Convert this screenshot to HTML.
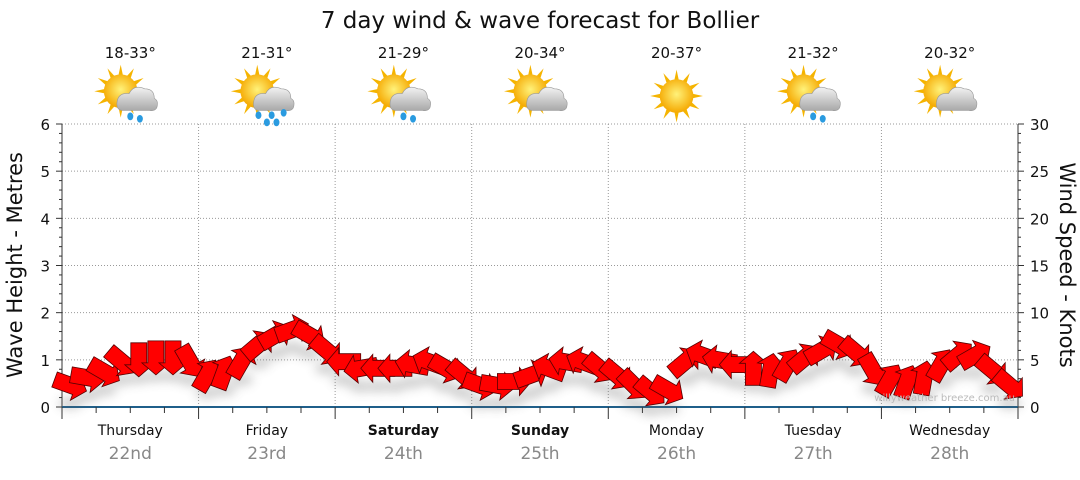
<!DOCTYPE html>
<html><head><meta charset="utf-8"><style>
body{margin:0;background:#fff;width:1080px;height:475px;overflow:hidden;font-family:"Liberation Sans","DejaVu Sans",sans-serif}
svg text{font-family:"DejaVu Sans","Liberation Sans",sans-serif}
</style></head><body>
<svg id="c" width="1080" height="475">
<defs>
<filter id="sh" x="-50%" y="-50%" width="200%" height="200%"><feGaussianBlur stdDeviation="5"/></filter>
<radialGradient id="sun" cx="50%" cy="45%" r="55%"><stop offset="0" stop-color="#fff27a"/><stop offset="1" stop-color="#f5a800"/></radialGradient>
<linearGradient id="cl" x1="0" y1="0" x2="0" y2="1"><stop offset="0" stop-color="#f2f2f2"/><stop offset="1" stop-color="#a8a8a8"/></linearGradient>
</defs>
<text x="540" y="28" text-anchor="middle" font-size="23" fill="#111">7 day wind &amp; wave forecast for Bollier</text>
<g id="grid"></g><g id="icons"></g><g id="axes"></g><g id="shadow" filter="url(#sh)" opacity="0.3"></g><g id="arrows"></g>
<text x="1015" y="401" text-anchor="end" font-size="10" fill="#bbb">willyweather breeze.com.au</text>
</svg>
<script>
const days=["Thursday","Friday","Saturday","Sunday","Monday","Tuesday","Wednesday"];
const dates=["22nd","23rd","24th","25th","26th","27th","28th"];
const bold=[false,false,true,true,false,false,false];
const temps=["18-33°","21-31°","21-29°","20-34°","20-37°","21-32°","20-32°"];
const weather=["rain","heavy","rain","cloud","sun","rain","cloud"];
const leftTicks=[0,1,2,3,4,5,6];
const rightTicks=[0,5,10,15,20,25,30];
const windKnots=[2.3,3.1,3.7,4.8,5.0,5.2,5.2,4.8, 3.4,3.7,4.8,6.6,7.6,8.2,7.6,6.0, 4.8,4.1,4.1,4.1,4.5,4.8,4.1,3.4, 2.3,2.3,2.7,3.4,4.1,4.8,4.8,4.1, 3.4,2.3,1.6,1.8,4.8,5.5,5.0,4.5, 4.1,3.9,4.5,5.2,6.0,6.6,5.8,3.9, 2.9,2.7,3.1,4.5,5.5,5.5,3.9,2.3];
const windDir=[20,10,30,40,90,90,90,60, 300,290,300,320,330,340,30,40, 180,170,180,180,190,200,30,40, 20,10,0,340,200,190,200,40, 40,45,40,30,320,200,190,180, 270,280,300,320,330,30,40,60, 300,290,280,300,320,330,40,40];
const X0=62,X1=1018,Y0=407,Y1=124;
const dayW=(X1-X0)/7;
const xOf=i=>X0+(i+0.5)*(X1-X0)/windKnots.length;
const yL=v=>Y0-(v/6)*(Y0-Y1);
const yR=v=>Y0-(v/30)*(Y0-Y1);
const NS="http://www.w3.org/2000/svg";
function mk(t,a,p){const e=document.createElementNS(NS,t);for(const k in a)e.setAttribute(k,a[k]);(p||document.getElementById('c')).appendChild(e);return e;}
const g=document.getElementById('grid'),ax=document.getElementById('axes'),ic=document.getElementById('icons'),ar=document.getElementById('arrows'),sh=document.getElementById('shadow');
leftTicks.forEach(v=>{if(v>0){const l=mk('line',{x1:X0,x2:X1,y1:yL(v),y2:yL(v),stroke:'#999','stroke-dasharray':'1,2'},g);}
const t=mk('text',{x:50,y:yL(v)+6,'text-anchor':'end','font-size':15,fill:'#111'},ax);t.textContent=v;});
for(let v=0;v<=6.001;v+=0.2){mk('line',{x1:X0-(Math.abs(v-Math.round(v))<0.01?6:3),x2:X0,y1:yL(v),y2:yL(v),stroke:'#333'},ax);}
rightTicks.forEach(v=>{const t=mk('text',{x:1030,y:yR(v)+6,'font-size':15,fill:'#111'},ax);t.textContent=v;});
for(let v=0;v<=30;v+=1){mk('line',{x1:X1,x2:X1+(v%5==0?6:3),y1:yR(v),y2:yR(v),stroke:'#333'},ax);}
mk('line',{x1:X0,x2:X0,y1:Y1,y2:Y0,stroke:'#333'},ax);mk('line',{x1:X1,x2:X1,y1:Y1,y2:Y0,stroke:'#333'},ax);
mk('line',{x1:X0,x2:X1,y1:Y0,y2:Y0,stroke:'#1f5f8a','stroke-width':2},ax);
let t=mk('text',{x:0,y:0,'font-size':21,fill:'#111','text-anchor':'middle',transform:'translate(22,265) rotate(-90)'},ax);t.textContent='Wave Height - Metres';
t=mk('text',{x:0,y:0,'font-size':21,fill:'#111','text-anchor':'middle',transform:'translate(1060,265) rotate(90)'},ax);t.textContent='Wind Speed - Knots';
for(let q=0;q<=28;q++){const x=X0+q*dayW/4;mk('line',{x1:x,x2:x,y1:Y0,y2:Y0+(q%4==0?12:6),stroke:'#333'},ax);}
days.forEach((d,i)=>{const cx=X0+(i+0.5)*dayW;
if(i>0){const l=mk('line',{x1:X0+i*dayW,x2:X0+i*dayW,y1:Y1,y2:Y0,stroke:'#999','stroke-dasharray':'1,2'},g);}
let e=mk('text',{x:cx,y:435,'text-anchor':'middle','font-size':14,fill:'#111','font-weight':bold[i]?'bold':'normal'},ax);e.textContent=d;
e=mk('text',{x:cx,y:459,'text-anchor':'middle','font-size':17,fill:'#888'},ax);e.textContent=dates[i];
e=mk('text',{x:cx,y:58,'text-anchor':'middle','font-size':15,fill:'#111'},ic);e.textContent=temps[i];
const w=mk('g',{transform:`translate(${cx},96) scale(1.2)`},ic);
const sx=weather[i]=='sun'?0:-8,sy=weather[i]=='sun'?0:-4;
for(let k=0;k<12;k++){const a=k*Math.PI/6;mk('polygon',{points:`${sx+Math.cos(a-0.15)*13},${sy+Math.sin(a-0.15)*13} ${sx+Math.cos(a)*22},${sy+Math.sin(a)*22} ${sx+Math.cos(a+0.15)*13},${sy+Math.sin(a+0.15)*13}`,fill:'#f5b400'},w);}
mk('circle',{cx:sx,cy:sy,r:14,fill:'url(#sun)'},w);
if(weather[i]!='sun'){mk('path',{d:'M-6,12 Q-12,12 -11,5 Q-10,-3 -1,-2 Q3,-10 12,-6 Q20,-6 20,2 Q24,4 22,10 Q20,13 16,12 Z',fill:'url(#cl)',stroke:'#999','stroke-width':0.5},w);}
if(weather[i]=='rain'||weather[i]=='heavy'){const dr=weather[i]=='heavy'?[[-7,16],[4,16],[14,14],[0,22],[8,22]]:[[0,17],[8,19]];dr.forEach(p=>mk('ellipse',{cx:p[0],cy:p[1],rx:2.5,ry:3.2,fill:'#2a9be0'},w));}
});
function arrowPts(cx,cy,ang){const L=17,h=8,H=14,hl=12;const P=[[-L,-h],[L-hl,-h],[L-hl,-H],[L,0],[L-hl,H],[L-hl,h],[-L,h]];const r=ang*Math.PI/180,c=Math.cos(r),s=Math.sin(r);return P.map(p=>`${(cx+p[0]*c-p[1]*s).toFixed(1)},${(cy+p[0]*s+p[1]*c).toFixed(1)}`).join(' ');}
windKnots.forEach((k,i)=>{mk('ellipse',{cx:xOf(i),cy:yR(k)+18,rx:12,ry:6,fill:'#666'},sh);});
windKnots.forEach((k,i)=>{const p=mk('polygon',{points:arrowPts(xOf(i),yR(k),windDir[i]),fill:'#ff0000',stroke:'#500','stroke-width':0.8},ar);

});
</script>
</body></html>
